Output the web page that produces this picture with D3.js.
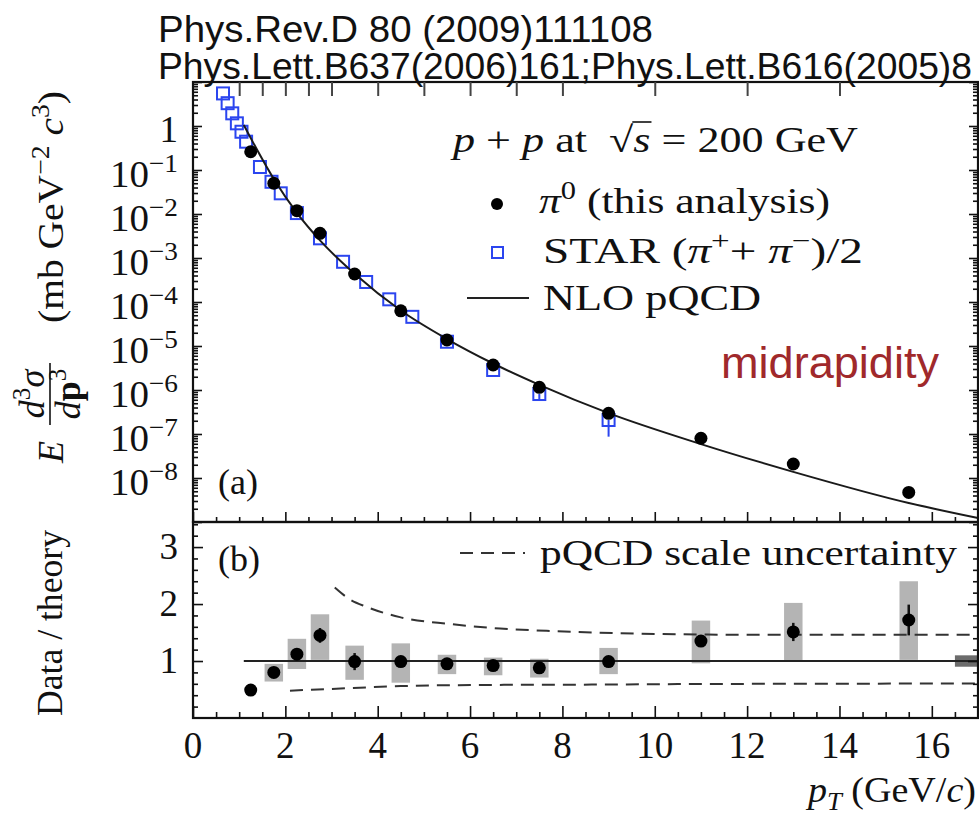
<!DOCTYPE html>
<html>
<head>
<meta charset="UTF-8">
<title>pi0 cross section p+p 200 GeV</title>
<script src="https://d3js.org/d3.v7.min.js"></script>
<style>
  body { margin: 0; background: #fff; }
  svg { display: block; }
</style>
</head>
<body>
<svg id="chart"></svg>
<script>
// ---------- data ----------
// pi0, this analysis
var piPt    = [1.25, 1.75, 2.25, 2.75, 3.5, 4.5, 5.5, 6.5, 7.5, 9, 11, 13, 15.5];
var piXsec  = [0.26, 0.050, 0.0119, 3.64e-3, 4.33e-4, 6.3e-5, 1.37e-5, 3.7e-6, 1.15e-6, 2.95e-7, 8.0e-8, 2.08e-8, 4.7e-9];
// STAR (pi+ + pi-)/2
var starPt   = [0.65, 0.75, 0.85, 0.95, 1.05, 1.15, 1.45, 1.7, 1.9, 2.25, 2.75, 3.25, 3.75, 4.25, 4.75, 5.5, 6.5, 7.5, 9];
var starXsec = [5.5, 3.3, 1.94, 1.15, 0.74, 0.44, 0.117, 0.054, 0.0295, 0.0105, 2.8e-3, 8.2e-4, 2.85e-4, 1.15e-4, 4.6e-5, 1.25e-5, 2.85e-6, 8.1e-7, 2.08e-7];
var starLow  = [null, null, null, null, null, null, null, null, null, null, null, null, null, null, null, null, null, 5.9e-7, 8.7e-8];
// NLO pQCD
var nloPt   = [1.1, 1.25, 1.75, 2.25, 2.75, 3.5, 4.5, 5.5, 6.5, 7.5, 9, 11, 13, 15.5, 17];
var nloXsec = [1.05, 0.53, 0.0625, 0.0106, 2.51e-3, 4.37e-4, 6.4e-5, 1.44e-5, 4.0e-6, 1.31e-6, 2.98e-7, 5.9e-8, 1.38e-8, 2.7e-9, 1.23e-9];
// data / theory
var ratio    = [0.49, 0.80, 1.12, 1.45, 0.99, 0.99, 0.95, 0.92, 0.88, 0.99, 1.35, 1.51, 1.72];
var ratioErr = [0.02, 0.02, 0.05, 0.13, 0.15, 0.06, 0.03, 0.03, 0.04, 0.05, 0.06, 0.16, 0.27];
var sysLo    = [null, 0.64, 0.86, 1.02, 0.67, 0.62, 0.77, 0.75, 0.71, 0.77, 0.96, 0.99, 1.02];
var sysHi    = [null, 0.95, 1.39, 1.82, 1.27, 1.31, 1.11, 1.06, 1.04, 1.23, 1.71, 2.02, 2.40];
var normBox  = [16.5, 17, 0.9, 1.1];
// pQCD scale uncertainty band edges
var scaleUpPt = [3.07, 3.4, 3.76, 4.48, 5.56, 6.65, 7.66, 9.1, 10.5, 12, 14, 17];
var scaleUp   = [2.29, 2.08, 1.95, 1.77, 1.65, 1.57, 1.53, 1.49, 1.47, 1.46, 1.46, 1.46];
var scaleLoPt = [2.1, 3.0, 4.5, 6.3, 8.4, 10.5, 17];
var scaleLo   = [0.48, 0.51, 0.56, 0.58, 0.585, 0.595, 0.605];
// ticks
var binEdges  = [1, 1.5, 2, 2.5, 3, 4, 5, 6, 7, 8, 10, 12, 14];
var xTicks    = [0, 2, 4, 6, 8, 10, 12, 14, 16];
var yExpTicks = [0, -1, -2, -3, -4, -5, -6, -7, -8];
var ratioTicks = [1, 2, 3];

// ---------- setup ----------
var W = 979, H = 817;
var SERIF = "'Liberation Serif', 'Times New Roman', serif";
var SANS = "'Liberation Sans', Arial, sans-serif";
var svg = d3.select("#chart").attr("width", W).attr("height", H);

var x = d3.scaleLinear().domain([0, 17]).range([193, 978]);
var yTop = d3.scaleLog().domain([1e-9, 10]).range([522, 82]);
var yBot = d3.scaleLinear().domain([0, 3.44]).range([718, 522]);

// text with italic / bold / super- and subscript pieces
function rich(parent, parts, px, py, fs, opt) {
    opt = opt || {};
    var t = parent.append("text")
        .attr("x", px).attr("y", py)
        .attr("font-family", opt.family || SERIF)
        .attr("font-size", fs)
        .attr("fill", opt.fill || "#111")
        .style("white-space", "pre");
    if (opt.anchor) t.attr("text-anchor", opt.anchor);
    var shift = 0;
    parts.forEach(function(p) {
        if (typeof p === "string") p = { t: p };
        var s = t.append("tspan").text(p.t);
        var target = p.sup ? -0.4 * fs : (p.sub ? 0.22 * fs : 0);
        if (target !== shift) {
            s.attr("dy", target - shift);
            shift = target;
        }
        if (p.sup || p.sub) s.attr("font-size", fs * 0.7);
        if (p.it) s.attr("font-style", "italic");
        if (p.b) s.attr("font-weight", "bold");
    });
    if (opt.len) t.attr("textLength", opt.len).attr("lengthAdjust", "spacingAndGlyphs");
    return t;
}

function ticks(gen, tr, vals, size, color, width) {
    var g = svg.append("g").attr("transform", tr)
        .call(gen.tickValues(vals).tickSize(size).tickFormat(""));
    g.select(".domain").remove();
    g.selectAll("line").attr("stroke", color || "#111").attr("stroke-width", width || 1.6);
    return g;
}

// log ticks
var logMajor = [], logMinor = [];
for (var e = -9; e <= 1; e++) {
    logMajor.push(Math.pow(10, e));
    if (e < 1) for (var k = 2; k <= 9; k++) logMinor.push(k * Math.pow(10, e));
}
var xMinor = d3.range(0, 17.01, 0.5).filter(function(v) { return v % 2 !== 0; });
var rMinor = d3.range(0.2, 3.41, 0.2).filter(function(v) { return Math.abs(v - Math.round(v)) > 0.01; });

// ---------- lower panel content ----------
var boxes = piPt.map(function(p, i) { return { p: p, lo: sysLo[i], hi: sysHi[i] }; })
    .filter(function(d) { return d.lo !== null; });
svg.append("g").selectAll("rect").data(boxes).enter().append("rect")
    .attr("x", function(d) { return x(d.p - 0.2); })
    .attr("width", function(d) { return x(d.p + 0.2) - x(d.p - 0.2); })
    .attr("y", function(d) { return yBot(d.hi); })
    .attr("height", function(d) { return yBot(d.lo) - yBot(d.hi); })
    .attr("fill", "#b4b4b4");

svg.append("rect")
    .attr("x", x(normBox[0])).attr("width", x(normBox[1]) - x(normBox[0]))
    .attr("y", yBot(normBox[3])).attr("height", yBot(normBox[2]) - yBot(normBox[3]))
    .attr("fill", "#6c6c6c");

svg.append("line")
    .attr("x1", x(1.1)).attr("x2", x(17))
    .attr("y1", yBot(1)).attr("y2", yBot(1))
    .attr("stroke", "#222").attr("stroke-width", 2);

var bandLine = d3.line().curve(d3.curveMonotoneX)
    .x(function(d) { return x(d[0]); })
    .y(function(d) { return yBot(d[1]); });
[[scaleUpPt, scaleUp], [scaleLoPt, scaleLo]].forEach(function(s) {
    svg.append("path")
        .datum(s[0].map(function(p, i) { return [p, s[1][i]]; }))
        .attr("d", bandLine)
        .attr("fill", "none").attr("stroke", "#333")
        .attr("stroke-width", 2).attr("stroke-dasharray", "13,8");
});

svg.append("g").selectAll("line").data(piPt).enter().append("line")
    .attr("x1", function(d) { return x(d); }).attr("x2", function(d) { return x(d); })
    .attr("y1", function(d, i) { return yBot(ratio[i] - ratioErr[i]); })
    .attr("y2", function(d, i) { return yBot(ratio[i] + ratioErr[i]); })
    .attr("stroke", "#111").attr("stroke-width", 2.5);

svg.append("g").selectAll("circle").data(piPt).enter().append("circle")
    .attr("cx", function(d) { return x(d); })
    .attr("cy", function(d, i) { return yBot(ratio[i]); })
    .attr("r", 6.5).attr("fill", "#000");

// ---------- upper panel content ----------
var blue = "#2b45ef";
svg.append("g").selectAll("line").data(starPt.map(function(p, i) { return [p, starXsec[i], starLow[i]]; })
    .filter(function(d) { return d[2] !== null; }))
    .enter().append("line")
    .attr("x1", function(d) { return x(d[0]); }).attr("x2", function(d) { return x(d[0]); })
    .attr("y1", function(d) { return yTop(d[1]); }).attr("y2", function(d) { return yTop(d[2]); })
    .attr("stroke", blue).attr("stroke-width", 2);

svg.append("g").selectAll("rect").data(starPt).enter().append("rect")
    .attr("x", function(d) { return x(d) - 6; })
    .attr("y", function(d, i) { return yTop(starXsec[i]) - 6; })
    .attr("width", 12).attr("height", 12)
    .attr("fill", "none").attr("stroke", blue).attr("stroke-width", 2);

svg.append("path")
    .datum(nloPt.map(function(p, i) { return [p, nloXsec[i]]; }))
    .attr("d", d3.line().curve(d3.curveMonotoneX)
        .x(function(d) { return x(d[0]); })
        .y(function(d) { return yTop(d[1]); }))
    .attr("fill", "none").attr("stroke", "#1a1a1a").attr("stroke-width", 2);

svg.append("g").selectAll("circle").data(piPt).enter().append("circle")
    .attr("cx", function(d) { return x(d); })
    .attr("cy", function(d, i) { return yTop(piXsec[i]); })
    .attr("r", 6.5).attr("fill", "#000");

// ---------- frames and ticks ----------
svg.append("rect").attr("x", x(0)).attr("y", 82).attr("width", x(17) - x(0)).attr("height", 440)
    .attr("fill", "none").attr("stroke", "#111").attr("stroke-width", 2.2);
svg.append("rect").attr("x", x(0)).attr("y", 522).attr("width", x(17) - x(0)).attr("height", 196)
    .attr("fill", "none").attr("stroke", "#111").attr("stroke-width", 2.2);

ticks(d3.axisLeft(yTop), "translate(" + x(0) + ",0)", logMajor, -9);
ticks(d3.axisLeft(yTop), "translate(" + x(0) + ",0)", logMinor, -5);
ticks(d3.axisRight(yTop), "translate(" + x(17) + ",0)", logMajor, -9);
ticks(d3.axisRight(yTop), "translate(" + x(17) + ",0)", logMinor, -5);
ticks(d3.axisBottom(x), "translate(0,522)", xTicks, -10);
ticks(d3.axisBottom(x), "translate(0,522)", xMinor, -5);
ticks(d3.axisTop(x), "translate(0,82)", binEdges, -14, "#444", 2);

ticks(d3.axisLeft(yBot), "translate(" + x(0) + ",0)", ratioTicks, -10);
ticks(d3.axisLeft(yBot), "translate(" + x(0) + ",0)", rMinor, -5);
ticks(d3.axisRight(yBot), "translate(" + x(17) + ",0)", ratioTicks, -10);
ticks(d3.axisRight(yBot), "translate(" + x(17) + ",0)", rMinor, -5);
ticks(d3.axisBottom(x), "translate(0,718)", xTicks, -12);
ticks(d3.axisBottom(x), "translate(0,718)", xMinor, -6);

// ---------- tick labels ----------
yExpTicks.forEach(function(e) {
    if (e === 0) {
        rich(svg, ["1"], 178, yTop(1) + 16, 37, { anchor: "end" });
    } else {
        rich(svg, ["10", { t: "\u2212" + (-e), sup: true }], 110, yTop(Math.pow(10, e)) + 17, 37, { len: 68 });
    }
});
ratioTicks.forEach(function(v) {
    rich(svg, [String(v)], 178, yBot(v) + 12, 37, { anchor: "end" });
});
xTicks.forEach(function(v) {
    rich(svg, [String(v)], x(v), 758, 37, { anchor: "middle" });
});

// ---------- axis titles ----------
var gy = svg.append("g").attr("transform", "translate(50,463) rotate(-90)");
rich(gy, [{ t: "E", it: true }], 0, 13, 36);
gy.append("line").attr("x1", 38).attr("x2", 100).attr("y1", 0).attr("y2", 0)
    .attr("stroke", "#111").attr("stroke-width", 1.6);
rich(gy, [{ t: "d", it: true }, { t: "3", sup: true }, { t: "\u03c3", it: true }], 69, -6, 36, { anchor: "middle" });
rich(gy, [{ t: "d", it: true }, { t: "p", b: true }, { t: "3", sup: true }], 69, 30, 36, { anchor: "middle" });
rich(gy, ["(mb GeV", { t: "\u22122", sup: true }, " ", { t: "c", it: true }, { t: "3", sup: true }, ")"], 140, 13, 36, { len: 232 });

var gr = svg.append("g").attr("transform", "translate(62,623) rotate(-90)");
rich(gr, ["Data / theory"], 0, 0, 36, { anchor: "middle", len: 186 });

rich(svg, [{ t: "p", it: true }, { t: "T", sub: true, it: true }, " (GeV/", { t: "c", it: true }, ")"], 808, 802, 36, { len: 168 });

// ---------- legends and labels ----------
var title = rich(svg, [{ t: "p", it: true }, " + ", { t: "p", it: true }, " at  \u221a", { t: "s", it: true }, " = 200 GeV"], 453, 152, 36, { len: 405 });
var rad = title.node().getExtentOfChar(10), sch = title.node().getExtentOfChar(11);
svg.append("line")
    .attr("x1", rad.x + rad.width - 1).attr("x2", sch.x + sch.width + 1)
    .attr("y1", rad.y + 2).attr("y2", rad.y + 2)
    .attr("stroke", "#111").attr("stroke-width", 1.6);

svg.append("circle").attr("cx", 497).attr("cy", 204).attr("r", 6).attr("fill", "#000");
rich(svg, [{ t: "\u03c0", it: true }, { t: "0", sup: true }, " (this analysis)"], 539, 213, 36, { len: 291 });
svg.append("rect").attr("x", 492).attr("y", 247).attr("width", 11).attr("height", 11)
    .attr("fill", "none").attr("stroke", blue).attr("stroke-width", 2);
rich(svg, ["STAR (", { t: "\u03c0", it: true }, { t: "+", sup: true }, "+ ", { t: "\u03c0", it: true }, { t: "\u2212", sup: true }, ")/2"], 543, 263, 36, { len: 320 });
svg.append("line").attr("x1", 467).attr("x2", 529).attr("y1", 298).attr("y2", 298)
    .attr("stroke", "#222").attr("stroke-width", 2);
rich(svg, ["NLO pQCD"], 543, 310, 36, { len: 218 });

svg.append("line").attr("x1", 460).attr("x2", 525).attr("y1", 553).attr("y2", 553)
    .attr("stroke", "#333").attr("stroke-width", 2).attr("stroke-dasharray", "13,8");
rich(svg, ["pQCD scale uncertainty"], 540, 565, 36, { len: 417 });

rich(svg, ["(a)"], 218, 494, 36);
rich(svg, ["(b)"], 218, 571, 36);

rich(svg, ["midrapidity"], 721, 378, 45, { family: SANS, fill: "#a0292b", len: 218 });

rich(svg, ["Phys.Rev.D 80 (2009)111108"], 158, 42, 37, { family: SANS, len: 495 });
rich(svg, ["Phys.Lett.B637(2006)161;Phys.Lett.B616(2005)8"], 158, 79, 37, { family: SANS, len: 814 });
</script>
</body>
</html>
